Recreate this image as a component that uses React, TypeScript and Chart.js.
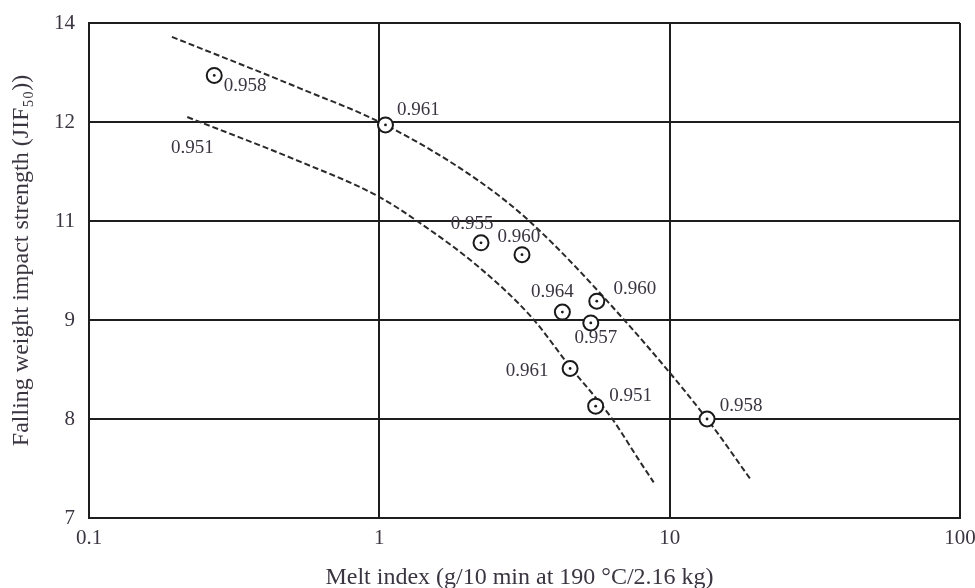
import React, { useEffect, useRef } from 'react';
import { Chart, registerables } from 'chart.js';

Chart.register(...registerables);

// X axis: melt index, logarithmic decades
const xTickValues = [0.1, 1, 10, 100];
// Y axis: the printed tick labels are evenly spaced (as in the original figure);
// values below are given in tick-position units (7 .. 12)
const yTickLabels = ['7', '8', '9', '11', '12', '14'];
const yMin = 7;
const yMax = 12;

// Measured samples
const pointMelt = [0.27, 1.05, 2.24, 3.1, 4.27, 5.61, 5.35, 4.54, 5.56, 13.45];
const pointImpact = [11.47, 10.97, 9.78, 9.66, 9.08, 9.19, 8.97, 8.51, 8.13, 8.0];
const pointDensity = ['0.958', '0.961', '0.955', '0.960', '0.964', '0.960', '0.957', '0.961', '0.951', '0.958'];

// Dashed trend curves
const upperMelt = [0.193, 0.533, 1.05, 2.19, 3.34, 6.83, 13.45, 19.0];
const upperImpact = [11.86, 11.34, 10.97, 10.41, 9.98, 9.03, 8.0, 7.39];
const lowerMelt = [0.218, 0.533, 0.99, 1.38, 2.19, 3.34, 4.56, 6.31, 7.82, 8.81];
const lowerImpact = [11.05, 10.6, 10.25, 9.98, 9.54, 9.03, 8.52, 8.01, 7.59, 7.36];
const lowerCurveLabel = '0.951';

const xTitle = 'Melt index (g/10 min at 190 °C/2.16 kg)';
const yTitle = 'Falling weight impact strength (JIF\u2085\u2080))';

// label placement (pixel offsets from each point), styling only
const labelOffsets: [number, number][] = [
  [31, 11], [33, -15], [-9, -19], [-3, -18], [-10, -20],
  [38, -12], [5, 15], [-43, 3], [35, -10], [34, -13],
];
const curveLabelOffset: [number, number] = [5, 31];

export default function App() {
  const ref = useRef<HTMLCanvasElement>(null);

  useEffect(() => {
    document.body.style.margin = '0';
    const canvas = ref.current;
    if (!canvas) return;

    const serif = "'Liberation Serif', 'DejaVu Serif', serif";
    const textColor = '#3a3540';
    const gridColor = '#1e1e1e';
    const lineColor = '#2a2a2a';

    const pts = pointMelt.map((x, i) => ({ x, y: pointImpact[i] }));
    const upper = upperMelt.map((x, i) => ({ x, y: upperImpact[i] }));
    const lower = lowerMelt.map((x, i) => ({ x, y: lowerImpact[i] }));

    const labelPlugin = {
      id: 'pointLabels',
      afterDatasetsDraw(chart: any) {
        const { ctx, scales, chartArea } = chart;
        const xs = scales.x;
        const ys = scales.y;
        ctx.save();
        ctx.fillStyle = textColor;
        ctx.textAlign = 'center';
        ctx.textBaseline = 'middle';
        ctx.font = `19px ${serif}`;
        pointDensity.forEach((t, i) => {
          const px = xs.getPixelForValue(pointMelt[i]) + labelOffsets[i][0];
          const py = ys.getPixelForValue(pointImpact[i]) + labelOffsets[i][1];
          ctx.fillText(t, px, py);
        });
        const cx = xs.getPixelForValue(lowerMelt[0]) + curveLabelOffset[0];
        const cy = ys.getPixelForValue(lowerImpact[0]) + curveLabelOffset[1];
        ctx.fillText(lowerCurveLabel, cx, cy);

        // axis titles
        ctx.font = `24px ${serif}`;
        ctx.fillText(xTitle, (chartArea.left + chartArea.right) / 2 - 5, chartArea.bottom + 60);
        ctx.translate(22, (chartArea.top + chartArea.bottom) / 2 - 10);
        ctx.rotate(-Math.PI / 2);
        ctx.fillText(yTitle, 0, 0);
        ctx.restore();
      },
    };

    const chart = new Chart(canvas, {
      type: 'scatter',
      data: {
        datasets: [
          {
            data: pts,
            pointRadius: 1.4,
            pointBackgroundColor: '#1a1a1a',
            pointBorderWidth: 0,
            showLine: false,
          },
          {
            data: pts,
            pointRadius: 7.5,
            pointBackgroundColor: '#ffffff',
            pointBorderColor: '#1a1a1a',
            pointBorderWidth: 2,
            showLine: false,
          },
          {
            data: upper,
            showLine: true,
            borderColor: lineColor,
            borderWidth: 2,
            borderDash: [6, 3],
            pointRadius: 0,
            cubicInterpolationMode: 'monotone',
            fill: false,
          },
          {
            data: lower,
            showLine: true,
            borderColor: lineColor,
            borderWidth: 2,
            borderDash: [6, 3],
            pointRadius: 0,
            cubicInterpolationMode: 'monotone',
            fill: false,
          },
        ],
      },
      options: {
        responsive: false,
        animation: false,
        devicePixelRatio: 1,
        layout: { padding: { top: 23, right: 15, left: 0, bottom: 0 } },
        plugins: {
          legend: { display: false },
          tooltip: { enabled: false },
        },
        scales: {
          x: {
            type: 'logarithmic',
            min: 0.1,
            max: 100,
            afterBuildTicks: (s: any) => {
              s.ticks = xTickValues.map((v) => ({ value: v }));
            },
            afterFit: (s: any) => {
              s.height = 70;
              s.paddingLeft = 0;
              s.paddingRight = 0;
            },
            ticks: {
              autoSkip: false,
              maxRotation: 0,
              padding: 8,
              color: textColor,
              font: { family: serif, size: 21 },
              callback: (v: any) => String(v),
            },
            grid: { color: gridColor, lineWidth: 2, drawTicks: false },
            border: { color: gridColor, width: 2 },
          },
          y: {
            type: 'linear',
            min: yMin,
            max: yMax,
            afterBuildTicks: (s: any) => {
              s.ticks = yTickLabels.map((_, i) => ({ value: yMin + i }));
            },
            afterFit: (s: any) => {
              s.width = 89;
              s.paddingTop = 0;
              s.paddingBottom = 0;
            },
            ticks: {
              autoSkip: false,
              padding: 14,
              color: textColor,
              font: { family: serif, size: 21 },
              callback: (v: any) => yTickLabels[Math.round(Number(v) - yMin)],
            },
            grid: { color: gridColor, lineWidth: 2, drawTicks: false },
            border: { color: gridColor, width: 2 },
          },
        },
      },
      plugins: [labelPlugin],
    } as any);

    return () => chart.destroy();
  }, []);

  return <canvas ref={ref} width={975} height={588} style={{ display: 'block' }} />;
}
